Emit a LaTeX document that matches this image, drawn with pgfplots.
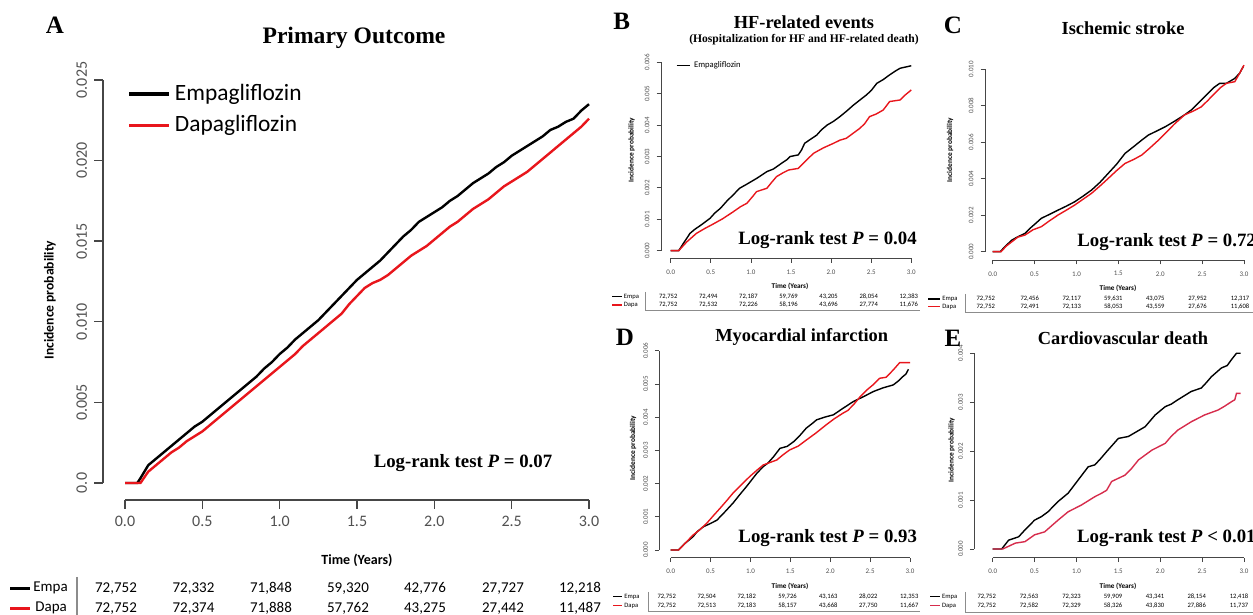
\documentclass[border=0pt]{standalone}
\usepackage{pgfplots}
\pgfplotsset{compat=1.18}
\usepackage{fontspec}
\setmainfont{Liberation Serif}
\newfontfamily\cali{Carlito}
\definecolor{kmred}{RGB}{232,22,28}
\definecolor{kmredE}{RGB}{214,44,76}
\definecolor{axgray}{RGB}{70,70,70}
\definecolor{tickgray}{RGB}{80,80,80}
\pgfplotsset{
 km/.style={
  scale only axis, clip=false,
  xmin=0, xmax=3, ymin=0,
  scaled y ticks=false, scaled x ticks=false,
  axis x line*=bottom, axis y line*=left,
  axis line style={-, draw=axgray},
  tick align=outside,
  tick style={draw=axgray},
  xtick={0,0.5,1,1.5,2,2.5,3},
  xticklabels={0.0,0.5,1.0,1.5,2.0,2.5,3.0},
  yticklabel style={rotate=90, anchor=south},
  every tick label/.append style={text=tickgray},
 },
 kmsmall/.style={
  major tick length=2.2pt,
  axis line style={line width=0.4pt}, tick style={line width=0.4pt},
  tick label style={font=\cali\fontsize{3.5}{4}\selectfont},
 },
}
\newcommand{\smallfont}{\cali\fontsize{3.3}{4}\selectfont}
\newcommand{\lrfont}{\fontsize{9.4}{11}\selectfont\bfseries}
\newcommand{\ttlfont}{\fontsize{9.2}{11}\selectfont\bfseries}
\newcommand{\letfont}{\fontsize{12.5}{14}\selectfont\bfseries}
\begin{document}
\begin{tikzpicture}
\path[use as bounding box] (0,0) rectangle (626.5pt,307.5pt);

% ================= Panel A =================
\begin{axis}[km, at={(62.5pt,66pt)}, anchor=south west, width=232pt, height=201.5pt,
  ymax=0.025,
  ytick={0,0.005,0.01,0.015,0.02,0.025},
  yticklabels={0.0,0.005,0.010,0.015,0.020,0.025},
  axis x line shift=8.5pt, axis y line shift=11pt,
  major tick length=4.5pt,
  axis line style={line width=0.7pt}, tick style={line width=0.7pt},
  tick label style={font=\cali\fontsize{8}{9}\selectfont},
  legend style={at={(0.005,1.0)}, anchor=north west, draw=none, fill=none, inner sep=0pt,
    font=\cali\fontsize{11.7}{14}\selectfont, row sep=2pt},
  legend cell align=left,
  legend image code/.code={\draw[#1, line width=1.6pt] (0pt,0pt) -- (20pt,0pt);},
]
\addplot[black, line width=1.2pt] coordinates {(0,0)(0.08,0)(0.1,0.0003)(0.15,0.0011)(0.2,0.0015)(0.25,0.0019)(0.3,0.0023)(0.35,0.0027)(0.4,0.0031)(0.45,0.0035)(0.5,0.0038)(0.55,0.0042)(0.6,0.0046)(0.65,0.0050)(0.7,0.0054)(0.75,0.0058)(0.8,0.0062)(0.85,0.0066)(0.9,0.0071)(0.95,0.0075)(1.0,0.0080)(1.05,0.0084)(1.1,0.0089)(1.15,0.0093)(1.2,0.0097)(1.25,0.0101)(1.3,0.0106)(1.35,0.0111)(1.4,0.0116)(1.45,0.0121)(1.5,0.0126)(1.55,0.0130)(1.6,0.0134)(1.65,0.0138)(1.7,0.0143)(1.75,0.0148)(1.8,0.0153)(1.85,0.0157)(1.9,0.0162)(1.95,0.0165)(2.0,0.0168)(2.05,0.0171)(2.1,0.0175)(2.15,0.0178)(2.2,0.0182)(2.25,0.0186)(2.3,0.0189)(2.35,0.0192)(2.4,0.0196)(2.45,0.0199)(2.5,0.0203)(2.55,0.0206)(2.6,0.0209)(2.65,0.0212)(2.7,0.0215)(2.75,0.0219)(2.8,0.0221)(2.85,0.0224)(2.9,0.0226)(2.95,0.0231)(3.0,0.0235)};
\addlegendentry{Empagliflozin}
\addplot[kmred, line width=1.2pt] coordinates {(0,0)(0.1,0)(0.15,0.0007)(0.2,0.0011)(0.25,0.0015)(0.3,0.0019)(0.35,0.0022)(0.4,0.0026)(0.45,0.0029)(0.5,0.0032)(0.55,0.0036)(0.6,0.0040)(0.65,0.0044)(0.7,0.0048)(0.75,0.0052)(0.8,0.0056)(0.85,0.0060)(0.9,0.0064)(0.95,0.0068)(1.0,0.0072)(1.05,0.0076)(1.1,0.0080)(1.15,0.0085)(1.2,0.0089)(1.25,0.0093)(1.3,0.0097)(1.35,0.0101)(1.4,0.0105)(1.45,0.0111)(1.5,0.0116)(1.55,0.0121)(1.6,0.0124)(1.65,0.0126)(1.7,0.0129)(1.75,0.0133)(1.8,0.0137)(1.85,0.0141)(1.9,0.0144)(1.95,0.0147)(2.0,0.0151)(2.05,0.0155)(2.1,0.0159)(2.15,0.0162)(2.2,0.0166)(2.25,0.0170)(2.3,0.0173)(2.35,0.0176)(2.4,0.0180)(2.45,0.0184)(2.5,0.0187)(2.55,0.0190)(2.6,0.0193)(2.65,0.0197)(2.7,0.0201)(2.75,0.0205)(2.8,0.0209)(2.85,0.0213)(2.9,0.0217)(2.95,0.0221)(3.0,0.0226)};
\addlegendentry{Dapagliflozin}
\end{axis}
\node[font=\letfont] at (27.5pt,295pt) {A};
\node[font=\fontsize{11.8}{14}\selectfont\bfseries] at (177pt,288.5pt) {Primary Outcome};
\node[font=\lrfont] at (231.5pt,76pt) {Log-rank test \textit{P} = 0.07};
\node[font=\cali\fontsize{6.8}{8}\selectfont\bfseries, rotate=90] at (25pt,157.5pt) {Incidence probability};
\node[font=\cali\fontsize{7}{8}\selectfont\bfseries] at (178.5pt,27.5pt) {Time (Years)};
% table A
\draw[black, line width=1.5pt] (5pt,13.35pt) -- (15pt,13.35pt);
\draw[kmred, line width=1.5pt] (5pt,3.35pt) -- (15pt,3.35pt);
\draw[black!45, line width=0.6pt] (38.5pt,19pt) -- (38.5pt,0pt);
\node[font=\cali\fontsize{7.5}{9}\selectfont, anchor=west, inner sep=0pt] at (16.5pt,13.35pt) {Empa};
\node[font=\cali\fontsize{7.5}{9}\selectfont, anchor=west, inner sep=0pt] at (17.5pt,3.35pt) {Dapa};
\begin{scope}[every node/.style={font=\cali\fontsize{7.5}{9}\selectfont, inner sep=0pt}]
\node at (58pt,13.35pt) {72,752}; \node at (96.75pt,13.35pt) {72,332}; \node at (135.5pt,13.35pt) {71,848}; \node at (174pt,13.35pt) {59,320}; \node at (212.5pt,13.35pt) {42,776}; \node at (251.5pt,13.35pt) {27,727}; \node at (290pt,13.35pt) {12,218};
\node at (58pt,3.35pt) {72,752}; \node at (96.75pt,3.35pt) {72,374}; \node at (135.5pt,3.35pt) {71,888}; \node at (174pt,3.35pt) {57,762}; \node at (212.5pt,3.35pt) {43,275}; \node at (251.5pt,3.35pt) {27,442}; \node at (290pt,3.35pt) {11,487};
\end{scope}

% ================= Panel B =================
\begin{axis}[km, kmsmall, at={(335.35pt,182.15pt)}, anchor=south west, width=120.3pt, height=94.2pt,
  ymax=0.006, ytick={0,0.001,0.002,0.003,0.004,0.005,0.006},
  yticklabels={0.000,0.001,0.002,0.003,0.004,0.005,0.006},
  axis x line shift=3.8pt, axis y line shift=4.85pt,
  legend style={at={(0.02,1.03)}, anchor=north west, draw=none, fill=none, inner sep=0pt,
    font=\cali\fontsize{4.3}{5}\selectfont},
  legend image code/.code={\draw[#1, line width=0.6pt] (0pt,0pt) -- (6.5pt,0pt);},
]
\addplot[black, line width=0.7pt] coordinates {(0,0)(0.1,0)(0.15,0.0002)(0.24,0.00055)(0.3,0.00068)(0.38,0.00082)(0.49,0.00103)(0.55,0.0012)(0.62,0.00135)(0.7,0.00158)(0.78,0.00178)(0.86,0.00199)(0.95,0.00212)(1.07,0.0023)(1.13,0.0024)(1.2,0.00252)(1.28,0.0026)(1.38,0.00278)(1.45,0.0029)(1.49,0.003)(1.59,0.00305)(1.63,0.0032)(1.67,0.00342)(1.75,0.00356)(1.82,0.00368)(1.88,0.00385)(1.95,0.004)(2.03,0.00412)(2.11,0.00427)(2.2,0.00446)(2.28,0.00464)(2.36,0.0048)(2.44,0.00496)(2.5,0.0051)(2.57,0.00533)(2.65,0.00545)(2.73,0.0056)(2.8,0.00572)(2.86,0.00581)(2.93,0.00585)(3.0,0.00589)};
\addlegendentry{Empagliflozin}
\addplot[kmred, line width=0.7pt, forget plot] coordinates {(0,0)(0.1,0)(0.2,0.00028)(0.32,0.00055)(0.42,0.0007)(0.53,0.00085)(0.65,0.00102)(0.78,0.00124)(0.87,0.0014)(0.95,0.00151)(1.02,0.00172)(1.07,0.00188)(1.2,0.00199)(1.26,0.00218)(1.32,0.00236)(1.4,0.00248)(1.47,0.00257)(1.59,0.00262)(1.68,0.00285)(1.78,0.0031)(1.9,0.00327)(2.03,0.00342)(2.11,0.00352)(2.19,0.00358)(2.28,0.00375)(2.36,0.0039)(2.42,0.00405)(2.48,0.00427)(2.56,0.00435)(2.65,0.00448)(2.7,0.00465)(2.73,0.00475)(2.86,0.0048)(2.92,0.00495)(3.0,0.00512)};
\end{axis}
\node[font=\letfont] at (310.85pt,296.65pt) {B};
\node[font=\ttlfont] at (402pt,296.15pt) {HF-related events};
\node[font=\fontsize{5.8}{7}\selectfont\bfseries] at (402pt,287.5pt) {(Hospitalization for HF and HF-related death)};
\node[font=\lrfont] at (413.75pt,187.5pt) {Log-rank test \textit{P} = 0.04};
\node[font=\cali\fontsize{3.7}{4.5}\selectfont\bfseries, rotate=90] at (315.85pt,232.5pt) {Incidence probability};
\node[font=\cali\fontsize{3.6}{4.5}\selectfont\bfseries] at (395pt,164.15pt) {Time (Years)};
\draw[black, line width=0.6pt] (306pt,159.15pt) -- (311pt,159.15pt);
\draw[kmred, line width=0.6pt] (306pt,155pt) -- (311pt,155pt);
\draw[black!45, line width=0.3pt] (322.5pt,161.5pt) -- (322.5pt,152.3pt) -- (460pt,152.3pt);
\begin{scope}[every node/.style={font=\smallfont, inner sep=0pt}]
\node[anchor=west] at (311.75pt,159.15pt) {Empa}; \node[anchor=west] at (311.75pt,155pt) {Dapa};
\node at (334.1pt,159.15pt) {72,752}; \node at (354.15pt,159.15pt) {72,494}; \node at (374.2pt,159.15pt) {72,187}; \node at (394.25pt,159.15pt) {59,769}; \node at (414.3pt,159.15pt) {43,205}; \node at (434.35pt,159.15pt) {28,054}; \node at (454.4pt,159.15pt) {12,383};
\node at (334.1pt,155pt) {72,752}; \node at (354.15pt,155pt) {72,532}; \node at (374.2pt,155pt) {72,226}; \node at (394.25pt,155pt) {58,196}; \node at (414.3pt,155pt) {43,696}; \node at (434.35pt,155pt) {27,774}; \node at (454.4pt,155pt) {11,676};
\end{scope}

% ================= Panel C =================
\begin{axis}[km, kmsmall, at={(496.35pt,181.65pt)}, anchor=south west, width=125.65pt, height=91.2pt,
  ymax=0.010, ytick={0,0.002,0.004,0.006,0.008,0.010},
  yticklabels={0.000,0.002,0.004,0.006,0.008,0.010},
  axis x line shift=4.15pt, axis y line shift=3.85pt,
]
\addplot[black, line width=0.7pt] coordinates {(0,0)(0.09,0)(0.15,0.0003)(0.23,0.00064)(0.3,0.00082)(0.385,0.001)(0.45,0.0013)(0.52,0.00158)(0.58,0.00183)(0.68,0.00205)(0.78,0.00228)(0.88,0.0025)(0.98,0.00274)(1.08,0.00305)(1.18,0.00338)(1.28,0.0038)(1.38,0.0043)(1.48,0.0048)(1.58,0.00539)(1.68,0.00575)(1.78,0.00612)(1.86,0.0064)(1.96,0.00662)(2.06,0.00685)(2.17,0.00715)(2.29,0.0075)(2.38,0.0078)(2.45,0.00813)(2.57,0.00868)(2.64,0.009)(2.71,0.00923)(2.79,0.00923)(2.89,0.0095)(2.95,0.0098)(2.99,0.01014)};
\addplot[kmred, line width=0.7pt] coordinates {(0,0)(0.1,0)(0.16,0.0003)(0.23,0.00055)(0.3,0.0008)(0.385,0.00091)(0.48,0.0012)(0.58,0.00137)(0.68,0.0017)(0.78,0.00201)(0.88,0.00228)(0.98,0.00256)(1.08,0.00288)(1.18,0.0032)(1.28,0.0036)(1.38,0.00402)(1.48,0.00445)(1.58,0.00484)(1.68,0.00505)(1.78,0.0053)(1.88,0.0057)(1.98,0.00612)(2.06,0.00649)(2.17,0.007)(2.29,0.0075)(2.39,0.0077)(2.49,0.00794)(2.57,0.0083)(2.65,0.00868)(2.72,0.009)(2.79,0.00923)(2.89,0.00932)(2.95,0.0098)(3.0,0.01023)};
\end{axis}
\node[font=\letfont] at (476.5pt,295pt) {C};
\node[font=\ttlfont] at (561.5pt,293.5pt) {Ischemic stroke};
\node[font=\lrfont, anchor=west, inner sep=0pt] at (538.5pt,186.65pt) {Log-rank test \textit{P} = 0.72};
\node[font=\cali\fontsize{3.7}{4.5}\selectfont\bfseries, rotate=90] at (475pt,232.5pt) {Incidence probability};
\node[font=\cali\fontsize{3.6}{4.5}\selectfont\bfseries] at (559pt,163.5pt) {Time (Years)};
\draw[black, line width=0.6pt] (464pt,158pt) -- (470pt,158pt);
\draw[kmred, line width=0.6pt] (464pt,154.15pt) -- (470pt,154.15pt);
\draw[black!45, line width=0.3pt] (482.5pt,160.5pt) -- (482.5pt,151.5pt) -- (626.5pt,151.5pt);
\begin{scope}[every node/.style={font=\smallfont, inner sep=0pt}]
\node[anchor=west] at (471pt,158pt) {Empa}; \node[anchor=west] at (471pt,154.15pt) {Dapa};
\node at (492.9pt,158pt) {72,752}; \node at (514.85pt,158pt) {72,456}; \node at (535.85pt,158pt) {72,117}; \node at (556.65pt,158pt) {59,631}; \node at (577.65pt,158pt) {43,075}; \node at (598.75pt,158pt) {27,952}; \node at (620pt,158pt) {12,317};
\node at (492.9pt,154.15pt) {72,752}; \node at (514.85pt,154.15pt) {72,491}; \node at (535.85pt,154.15pt) {72,133}; \node at (556.65pt,154.15pt) {58,053}; \node at (577.65pt,154.15pt) {43,559}; \node at (598.75pt,154.15pt) {27,676}; \node at (620pt,154.15pt) {11,608};
\end{scope}

% ================= Panel D =================
\begin{axis}[km, kmsmall, at={(335.35pt,32.5pt)}, anchor=south west, width=119.65pt, height=99.65pt,
  ymax=0.006, ytick={0,0.001,0.002,0.003,0.004,0.005,0.006},
  yticklabels={0.000,0.001,0.002,0.003,0.004,0.005,0.006},
  axis x line shift=3.85pt, axis y line shift=5.7pt,
]
\addplot[black, line width=0.7pt] coordinates {(0,0)(0.095,0)(0.18,0.0002)(0.28,0.0004)(0.33,0.00055)(0.41,0.0007)(0.5,0.0008)(0.58,0.0009)(0.68,0.00115)(0.78,0.00141)(0.86,0.00165)(0.95,0.00191)(1.08,0.00231)(1.16,0.00251)(1.22,0.00262)(1.29,0.00281)(1.37,0.00306)(1.46,0.00312)(1.54,0.00326)(1.62,0.00345)(1.7,0.00367)(1.77,0.0038)(1.83,0.00392)(1.93,0.004)(2.04,0.00407)(2.15,0.00425)(2.29,0.00447)(2.42,0.00462)(2.54,0.00477)(2.66,0.00488)(2.79,0.00497)(2.86,0.0051)(2.91,0.00522)(2.95,0.0053)(2.98,0.00544)};
\addplot[kmred, line width=0.7pt] coordinates {(0,0)(0.1,0)(0.18,0.0002)(0.28,0.00045)(0.36,0.0006)(0.45,0.0008)(0.53,0.00102)(0.62,0.00126)(0.7,0.00148)(0.78,0.00171)(0.88,0.00195)(0.99,0.00221)(1.08,0.0024)(1.16,0.00256)(1.33,0.00271)(1.41,0.00287)(1.49,0.00301)(1.6,0.00313)(1.7,0.00331)(1.82,0.00352)(1.95,0.00377)(2.05,0.00395)(2.16,0.00412)(2.22,0.0042)(2.29,0.00437)(2.37,0.0046)(2.46,0.00482)(2.54,0.00498)(2.62,0.00517)(2.7,0.0052)(2.79,0.00542)(2.87,0.00564)(3.0,0.00564)};
\end{axis}
\node[font=\letfont] at (312.5pt,139pt) {D};
\node[font=\ttlfont] at (400.85pt,139.15pt) {Myocardial infarction};
\node[font=\lrfont] at (413.85pt,38.35pt) {Log-rank test \textit{P} = 0.93};
\node[font=\cali\fontsize{3.7}{4.5}\selectfont\bfseries, rotate=90] at (316.5pt,83.5pt) {Incidence probability};
\node[font=\cali\fontsize{3.6}{4.5}\selectfont\bfseries] at (395pt,14.15pt) {Time (Years)};
\draw[black, line width=0.6pt] (306.5pt,9.15pt) -- (311pt,9.15pt);
\draw[kmred, line width=0.6pt] (306.5pt,4.65pt) -- (311pt,4.65pt);
\draw[black!45, line width=0.3pt] (324.15pt,11.5pt) -- (324.15pt,2pt) -- (460pt,2pt);
\begin{scope}[every node/.style={font=\smallfont, inner sep=0pt}]
\node[anchor=west] at (312pt,9.15pt) {Empa}; \node[anchor=west] at (312pt,4.65pt) {Dapa};
\node at (333.35pt,9.15pt) {72,752}; \node at (353.35pt,9.15pt) {72,504}; \node at (373.35pt,9.15pt) {72,182}; \node at (393.75pt,9.15pt) {59,726}; \node at (414.15pt,9.15pt) {43,163}; \node at (434.15pt,9.15pt) {28,022}; \node at (454.6pt,9.15pt) {12,353};
\node at (333.35pt,4.65pt) {72,752}; \node at (353.35pt,4.65pt) {72,513}; \node at (373.35pt,4.65pt) {72,183}; \node at (393.75pt,4.65pt) {58,157}; \node at (414.15pt,4.65pt) {43,668}; \node at (434.15pt,4.65pt) {27,750}; \node at (454.6pt,4.65pt) {11,667};
\end{scope}

% ================= Panel E =================
\begin{axis}[km, kmsmall, at={(496.35pt,33pt)}, anchor=south west, width=125.65pt, height=97.85pt,
  ymax=0.004, ytick={0,0.001,0.002,0.003,0.004},
  yticklabels={0.000,0.001,0.002,0.003,0.004},
  axis x line shift=4.35pt, axis y line shift=9.2pt,
]
\addplot[black, line width=0.7pt] coordinates {(0,0)(0.107,0)(0.19,0.00018)(0.31,0.00025)(0.385,0.00039)(0.5,0.00059)(0.58,0.00066)(0.66,0.00076)(0.78,0.00097)(0.9,0.00114)(1.02,0.00141)(1.14,0.00168)(1.22,0.00172)(1.29,0.00185)(1.36,0.00199)(1.5,0.00226)(1.62,0.0023)(1.72,0.0024)(1.82,0.0025)(1.94,0.00274)(2.06,0.00291)(2.13,0.00296)(2.21,0.00305)(2.37,0.00322)(2.49,0.00329)(2.55,0.0034)(2.61,0.00352)(2.73,0.0037)(2.8,0.00375)(2.85,0.00387)(2.91,0.004)(2.96,0.004)};
\addplot[kmredE, line width=0.7pt] coordinates {(0,0)(0.12,0)(0.27,0.00012)(0.385,0.00015)(0.5,0.00029)(0.62,0.00035)(0.7,0.00047)(0.78,0.00059)(0.9,0.00076)(1.06,0.0009)(1.22,0.00107)(1.3,0.00114)(1.36,0.0012)(1.42,0.00138)(1.58,0.00151)(1.66,0.00165)(1.74,0.00182)(1.9,0.00202)(2.06,0.00216)(2.13,0.0023)(2.21,0.00243)(2.37,0.0026)(2.53,0.00274)(2.69,0.00284)(2.77,0.00292)(2.85,0.00301)(2.89,0.00305)(2.91,0.00318)(2.96,0.00318)};
\end{axis}
\node[font=\letfont] at (476.5pt,138.5pt) {E};
\node[font=\ttlfont] at (561.5pt,138.35pt) {Cardiovascular death};
\node[font=\lrfont, anchor=west, inner sep=0pt] at (538.35pt,38.35pt) {Log-rank test \textit{P} < 0.01};
\node[font=\cali\fontsize{3.7}{4.5}\selectfont\bfseries, rotate=90] at (475.85pt,82.5pt) {Incidence probability};
\node[font=\cali\fontsize{3.6}{4.5}\selectfont\bfseries] at (559pt,14.15pt) {Time (Years)};
\draw[black, line width=0.6pt] (465pt,9.15pt) -- (470pt,9.15pt);
\draw[kmredE, line width=0.6pt] (465pt,4.65pt) -- (470pt,4.65pt);
\draw[black!45, line width=0.3pt] (482.5pt,11.5pt) -- (482.5pt,1.5pt) -- (626.5pt,1.5pt);
\begin{scope}[every node/.style={font=\smallfont, inner sep=0pt}]
\node[anchor=west] at (470.85pt,9.15pt) {Empa}; \node[anchor=west] at (470.85pt,4.65pt) {Dapa};
\node at (493.35pt,9.15pt) {72,752}; \node at (514.5pt,9.15pt) {72,563}; \node at (535.75pt,9.15pt) {72,323}; \node at (556.5pt,9.15pt) {59,909}; \node at (577.5pt,9.15pt) {43,341}; \node at (598.35pt,9.15pt) {28,154}; \node at (619.5pt,9.15pt) {12,418};
\node at (493.35pt,4.65pt) {72,752}; \node at (514.5pt,4.65pt) {72,582}; \node at (535.75pt,4.65pt) {72,329}; \node at (556.5pt,4.65pt) {58,326}; \node at (577.5pt,4.65pt) {43,830}; \node at (598.35pt,4.65pt) {27,886}; \node at (619.5pt,4.65pt) {11,737};
\end{scope}
\end{tikzpicture}
\end{document}
